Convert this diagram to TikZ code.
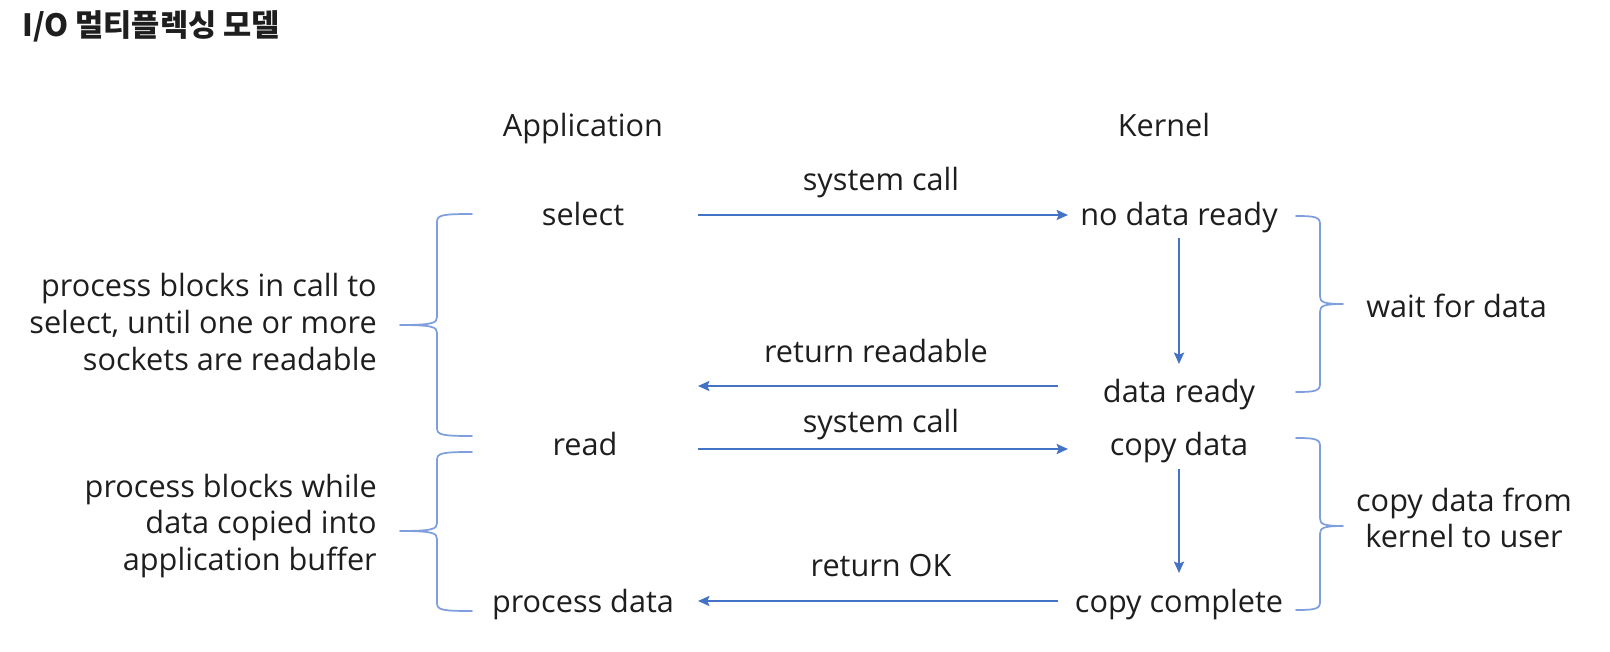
\documentclass[tikz,border=0pt]{standalone}
\usepackage{fontspec}
\setmainfont{Open Sans}
\newfontfamily\krfont{Noto Sans CJK KR}
\usetikzlibrary{arrows.meta}
\definecolor{flow}{HTML}{4472C4}
\definecolor{curly}{HTML}{7E9EDC}
\definecolor{ink}{HTML}{1E1E1E}
\begin{document}
\begin{tikzpicture}[x=0.75pt,y=-0.75pt,
  lbl/.style={font=\fontsize{23}{27.5}\selectfont, text=ink, inner sep=0pt, anchor=base},
  note/.style={font=\fontsize{23}{27.5}\selectfont, text=ink, inner sep=0pt},
  flowarrow/.style={draw=flow, line width=1.7pt, -{Stealth[length=8.5pt,width=7.5pt,inset=1.5pt]}},
  bracket/.style={draw=curly, line width=1.3pt, line join=round, line cap=round}]
\useasboundingbox (0,0) rectangle (1610,652);

% title
\node[anchor=base west, inner sep=0pt, text=ink,
      font=\krfont\bfseries\fontsize{23}{27}\selectfont] (title) at (22,37) {I/O 멀티플렉싱 모델};

% column headers
\node[lbl] (app) at (583,137) {Application};
\node[lbl] (kern) at (1164,137) {Kernel};

% application side
\node[lbl] (select) at (583,226) {select};
\node[lbl] (read) at (585,455) {read};
\node[lbl] (procdata) at (583,612) {process data};

% kernel side
\node[lbl] (nodata) at (1179,226) {no data ready};
\node[lbl] (ready) at (1179,402) {data ready};
\node[lbl] (copy) at (1179,455) {copy data};
\node[lbl] (done) at (1179,612) {copy complete};

% arrow labels
\node[lbl] (sc1) at (881,191) {system call};
\node[lbl] (rr) at (876,363) {return readable};
\node[lbl] (sc2) at (881,432) {system call};
\node[lbl] (rok) at (881,576) {return OK};

% arrow end points
\coordinate (a1s) at (698,215);  \coordinate (a1e) at (1068,215);
\coordinate (a2s) at (1058,386); \coordinate (a2e) at (698,386);
\coordinate (a3s) at (698,449);  \coordinate (a3e) at (1068,449);
\coordinate (a4s) at (1058,601); \coordinate (a4e) at (698,601);
\coordinate (v1s) at (1179,238); \coordinate (v1e) at (1179,364);
\coordinate (v2s) at (1179,469); \coordinate (v2e) at (1179,573);

\draw[flowarrow] (a1s) -- (a1e);
\draw[flowarrow] (a2s) -- (a2e);
\draw[flowarrow] (a3s) -- (a3e);
\draw[flowarrow] (a4s) -- (a4e);
\draw[flowarrow] (v1s) -- (v1e);
\draw[flowarrow] (v2s) -- (v2e);

% side notes
\node[note, anchor=east, align=right] (n1) at (377,322)
  {process blocks in call to\\select, until one or more\\sockets are readable};
\node[note, anchor=east, align=right] (n2) at (377,526)
  {process blocks while\\data copied into\\application buffer};
\node[note, anchor=west] (n3) at (1366,306) {wait for data};
\node[note, align=center] (n4) at (1464,518) {copy data from\\kernel to user};

% curly brackets, left side
\draw[bracket] (472,214) .. controls (442,214) and (437,215) .. (437,222) -- (437,317)
  .. controls (437,323) and (433,325) .. (400,325)
  .. controls (433,325) and (437,327) .. (437,333) -- (437,428)
  .. controls (437,435) and (442,436) .. (472,436);
\draw[bracket] (472,452) .. controls (442,452) and (437,453) .. (437,460) -- (437,523)
  .. controls (437,529) and (433,531) .. (400,531)
  .. controls (433,531) and (437,533) .. (437,539) -- (437,603)
  .. controls (437,610) and (442,611) .. (472,611);

% curly brackets, right side
\draw[bracket] (1296,216) .. controls (1315,216) and (1320,217) .. (1320,224) -- (1320,296)
  .. controls (1320,302) and (1323,304) .. (1343,304)
  .. controls (1323,304) and (1320,306) .. (1320,312) -- (1320,384)
  .. controls (1320,391) and (1315,392) .. (1296,392);
\draw[bracket] (1296,438) .. controls (1315,438) and (1320,439) .. (1320,446) -- (1320,518)
  .. controls (1320,524) and (1323,526) .. (1343,526)
  .. controls (1323,526) and (1320,528) .. (1320,534) -- (1320,602)
  .. controls (1320,609) and (1315,610) .. (1296,610);
\end{tikzpicture}
\end{document}
